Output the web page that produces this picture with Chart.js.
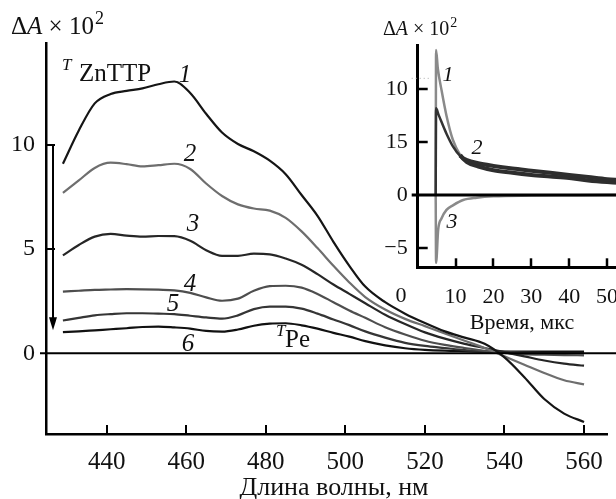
<!DOCTYPE html>
<html>
<head>
<meta charset="utf-8">
<script src="https://cdn.jsdelivr.net/npm/chart.js@4.4.0/dist/chart.umd.min.js"></script>
<style>
  html, body { margin: 0; padding: 0; background: #fff; overflow: hidden; width: 616px; height: 499px; }
  #wrap { position: relative; width: 616px; height: 499px; overflow: hidden; }
  #main { position: absolute; left: 0; top: 0; }
  #inset { position: absolute; left: 380px; top: 0; }
</style>
</head>
<body>
<div id="wrap">
  <canvas id="main" width="616" height="499"></canvas>
  <canvas id="inset" width="300" height="340"></canvas>
</div>
<script>
// --- main spectra (wavelength, nm ; dA x 10^2) ---
var wavelength = [429,433,437,441,445,449,453,457,461,465,469,473,477,481,485,489,493,497,501,505,510,515,520,525,530,535,540,545,550,555,560];
var curve1 = [9.1,10.7,12.0,12.45,12.6,12.72,12.92,13.05,12.5,11.5,10.6,10.05,9.7,9.25,8.6,7.6,6.6,5.35,4.2,3.2,2.45,1.9,1.45,1.05,0.75,0.45,-0.2,-1.15,-2.2,-2.9,-3.3];
var curve2 = [7.7,8.3,8.9,9.15,9.08,8.97,9.03,9.1,8.85,8.15,7.55,7.15,6.95,6.85,6.5,5.85,5.05,4.2,3.4,2.7,2.1,1.65,1.3,0.95,0.6,0.25,-0.15,-0.55,-0.95,-1.3,-1.5];
var curve3 = [4.7,5.2,5.6,5.73,5.65,5.6,5.63,5.62,5.4,4.95,4.68,4.68,4.78,4.75,4.55,4.25,3.8,3.3,2.85,2.4,1.85,1.4,1.0,0.7,0.45,0.25,0.05,-0.15,-0.35,-0.5,-0.6];
var curve4 = [2.96,3.0,3.04,3.06,3.08,3.07,3.05,3.02,2.9,2.68,2.52,2.62,3.0,3.22,3.24,3.15,2.85,2.45,2.05,1.7,1.25,0.9,0.6,0.4,0.25,0.12,0.02,-0.04,-0.07,-0.09,-0.1];
var curve5 = [1.57,1.7,1.82,1.88,1.92,1.92,1.9,1.88,1.8,1.72,1.66,1.82,2.12,2.24,2.24,2.14,1.9,1.62,1.35,1.05,0.75,0.5,0.35,0.25,0.15,0.1,0.06,0.03,0.01,0,0];
var curve6 = [1.01,1.05,1.1,1.15,1.2,1.26,1.28,1.24,1.18,1.07,1.04,1.14,1.32,1.42,1.44,1.34,1.18,0.98,0.8,0.58,0.38,0.24,0.16,0.12,0.1,0.08,0.08,0.08,0.08,0.08,0.08];
var curveNames = ['1','2','3','4','5','6'];
var curveColors = ['#151515','#6e6e6e','#262626','#4e4e4e','#353535','#111111'];
var xTicks = [440,460,480,500,520,540,560];
var yTicks = [0,5,10];

// --- inset kinetics (time, us ; dA x 10^2) ---
var time1 = [4.75,4.85,5.3,6.3,7.6,9.3,11.2,13,16,20,25,30,35,40,45,50,55,60];
var kin1  = [0,13.7,12.0,9.9,7.5,5.2,3.8,3.1,2.7,2.35,2.1,1.9,1.75,1.6,1.38,1.22,1.1,1.05];
var time2 = [4.75,4.85,5.5,6.3,7.6,9.3,11.2,13,16,20,25,30,35,40,45,50,55,60];
var kin2  = [0,8.2,7.6,6.9,5.8,4.6,3.7,3.3,3.0,2.75,2.5,2.3,2.1,1.9,1.7,1.5,1.4,1.35];
var time3 = [4.75,4.85,5.4,6.3,7.6,9.4,12,15.6,20,30,40,50,60];
var kin3  = [0,-6.4,-3.3,-2.2,-1.4,-0.95,-0.47,-0.25,-0.12,-0.05,-0.02,0,0];
var insetXTicks = [10,20,30,40,50];
var insetYTicks = [-5,0,5,10];
var insetYText = ['\u22125','0','15','10'];

var serif = "'Liberation Serif', 'Times New Roman', serif";

function pts(xs, ys) {
  return xs.map(function(v, i) { return { x: v, y: ys[i] }; });
}

function txt(ctx, s, x, y, size, italic, align) {
  ctx.font = (italic ? 'italic ' : '') + size + 'px ' + serif;
  ctx.textAlign = align || 'left';
  ctx.textBaseline = 'alphabetic';
  ctx.fillText(s, x, y);
}

// "dA x 10^2" with italic A and superscript 2
function dALabel(ctx, x, y, size) {
  ctx.fillStyle = '#111';
  ctx.font = size + 'px ' + serif;
  ctx.textAlign = 'left';
  ctx.fillText('\u0394', x, y);
  x += ctx.measureText('\u0394').width;
  ctx.font = 'italic ' + size + 'px ' + serif;
  ctx.fillText('A', x, y);
  x += ctx.measureText('A').width;
  ctx.font = size + 'px ' + serif;
  ctx.fillText(' \u00d7 10', x, y);
  x += ctx.measureText(' \u00d7 10').width;
  ctx.font = Math.round(size * 0.7) + 'px ' + serif;
  ctx.fillText('2', x + 1, y - size * 0.42);
}

var mainDecor = {
  id: 'mainDecor',
  afterDraw: function(chart) {
    var ctx = chart.ctx, a = chart.chartArea, x = chart.scales.x, y = chart.scales.y;
    ctx.save();
    ctx.strokeStyle = '#000';
    ctx.fillStyle = '#000';
    ctx.lineWidth = 2;
    var y0 = y.getPixelForValue(0);
    ctx.beginPath(); ctx.moveTo(40, y0); ctx.lineTo(chart.width, y0); ctx.stroke();
    xTicks.forEach(function(v) {
      var px = Math.round(x.getPixelForValue(v));
      ctx.beginPath(); ctx.moveTo(px, a.bottom); ctx.lineTo(px, a.bottom - 9); ctx.stroke();
    });
    [5, 10].forEach(function(v) {
      var py = Math.round(y.getPixelForValue(v));
      ctx.beginPath(); ctx.moveTo(a.left, py); ctx.lineTo(a.left + 9, py); ctx.stroke();
    });
    // arrow from 10 down
    var ax = 53, top = y.getPixelForValue(10), tip = y.getPixelForValue(1.1);
    ctx.beginPath(); ctx.moveTo(ax, top); ctx.lineTo(ax, tip - 10); ctx.stroke();
    ctx.beginPath(); ctx.moveTo(ax - 4, tip - 13); ctx.lineTo(ax + 4, tip - 13); ctx.lineTo(ax, tip); ctx.closePath(); ctx.fill();

    ctx.fillStyle = '#111';
    dALabel(ctx, 11, 34, 25);
    // axis title
    txt(ctx, '\u0414\u043b\u0438\u043d\u0430 \u0432\u043e\u043b\u043d\u044b, \u043d\u043c', 334, 495, 26, false, 'center');
    // species labels
    txt(ctx, 'T', 62, 70, 17, true);
    txt(ctx, 'ZnTTP', 79, 81, 25, false);
    txt(ctx, 'T', 276, 336, 17, true);
    txt(ctx, 'Pe', 285, 347, 25, false);
    // curve numbers
    var lab = [[185, 82], [190, 161], [193, 231], [190, 291], [173, 311], [188, 351]];
    lab.forEach(function(p, i) { txt(ctx, curveNames[i], p[0], p[1], 25, true, 'center'); });
    ctx.restore();
  }
};

new Chart(document.getElementById('main'), {
  type: 'line',
  data: {
    datasets: [curve1, curve2, curve3, curve4, curve5, curve6].map(function(c, i) {
      return {
        label: curveNames[i],
        data: pts(wavelength, c),
        borderColor: curveColors[i],
        borderWidth: 2.2,
        pointRadius: 0,
        tension: 0.4,
        cubicInterpolationMode: 'monotone',
        fill: false
      };
    })
  },
  options: {
    responsive: false,
    animation: false,
    events: [],
    layout: { padding: { left: 0, right: 5, top: 43, bottom: 0 } },
    plugins: { legend: { display: false }, tooltip: { enabled: false } },
    scales: {
      x: {
        type: 'linear',
        min: 424.75,
        max: 566,
        afterFit: function(s) { s.height = 65; },
        afterBuildTicks: function(s) { s.ticks = xTicks.map(function(v) { return { value: v }; }); },
        grid: { display: false, drawTicks: false },
        border: { display: true, color: '#000', width: 2.5 },
        ticks: { color: '#111', font: { family: serif, size: 25 }, padding: 13, maxRotation: 0, autoSkip: false }
      },
      y: {
        type: 'linear',
        min: -3.88,
        max: 14.9,
        afterFit: function(s) { s.width = 46; },
        afterBuildTicks: function(s) { s.ticks = yTicks.map(function(v) { return { value: v }; }); },
        grid: { display: false, drawTicks: false },
        border: { display: true, color: '#000', width: 2.5 },
        ticks: { color: '#111', font: { family: serif, size: 24 }, padding: 11 }
      }
    }
  },
  plugins: [mainDecor]
});

var insetDecor = {
  id: 'insetDecor',
  afterDraw: function(chart) {
    var ctx = chart.ctx, a = chart.chartArea, x = chart.scales.x, y = chart.scales.y;
    ctx.save();
    ctx.strokeStyle = '#000';
    ctx.lineWidth = 3;
    var y0 = y.getPixelForValue(0);
    ctx.beginPath(); ctx.moveTo(a.left - 6, y0); ctx.lineTo(chart.width, y0); ctx.stroke();
    ctx.lineWidth = 2.5;
    insetXTicks.forEach(function(v) {
      var px = Math.round(x.getPixelForValue(v));
      ctx.beginPath(); ctx.moveTo(px, a.bottom); ctx.lineTo(px, a.bottom - 9); ctx.stroke();
    });
    [-5, 5, 10].forEach(function(v) {
      var py = Math.round(y.getPixelForValue(v));
      ctx.beginPath(); ctx.moveTo(a.left, py); ctx.lineTo(a.left + 10, py); ctx.stroke();
    });
    // faint dotted mark near the top
    ctx.strokeStyle = '#aaa'; ctx.lineWidth = 1; ctx.setLineDash([1, 3]);
    var yd = y.getPixelForValue(11.03);
    ctx.beginPath(); ctx.moveTo(a.left - 6, yd); ctx.lineTo(a.left + 12, yd); ctx.stroke();
    ctx.setLineDash([]);

    ctx.fillStyle = '#111';
    txt(ctx, '0', 21, 302, 22, false, 'center');
    txt(ctx, '\u0412\u0440\u0435\u043c\u044f, \u043c\u043a\u0441', 142, 329, 22, false, 'center');
    dALabel(ctx, 3, 35, 20);
    txt(ctx, '1', 68, 81, 22, true, 'center');
    txt(ctx, '2', 97, 154, 22, true, 'center');
    txt(ctx, '3', 72, 228, 22, true, 'center');
    ctx.restore();
  }
};

function tailStyle(grey, dark, cut) {
  return {
    borderColor: function(c) { return c.p0.parsed.x >= cut ? dark : grey; },
    borderWidth: function(c) { return c.p0.parsed.x >= cut ? 4 : 2.5; }
  };
}

new Chart(document.getElementById('inset'), {
  type: 'line',
  data: {
    datasets: [
      { label: '2', data: pts(time2, kin2), borderColor: '#333', borderWidth: 3, segment: tailStyle('#333', '#2e2e2e', 11) },
      { label: '1', data: pts(time1, kin1), borderColor: '#8a8a8a', borderWidth: 2.5, segment: tailStyle('#8a8a8a', '#2e2e2e', 11) },
      { label: '3', data: pts(time3, kin3), borderColor: '#8a8a8a', borderWidth: 2.5 }
    ].map(function(d) {
      d.pointRadius = 0; d.cubicInterpolationMode = 'monotone'; d.fill = false; return d;
    })
  },
  options: {
    responsive: false,
    animation: false,
    events: [],
    layout: { padding: { left: 0, right: 35, top: 45, bottom: 0 } },
    plugins: { legend: { display: false }, tooltip: { enabled: false } },
    scales: {
      x: {
        type: 'linear',
        min: 0,
        max: 60,
        afterFit: function(s) { s.height = 72.7; },
        afterBuildTicks: function(s) { s.ticks = insetXTicks.map(function(v) { return { value: v }; }); },
        grid: { display: false, drawTicks: false },
        border: { display: true, color: '#000', width: 3 },
        ticks: { color: '#111', font: { family: serif, size: 22 }, padding: 17, maxRotation: 0, autoSkip: false }
      },
      y: {
        type: 'linear',
        min: -6.83,
        max: 14.18,
        afterFit: function(s) { s.width = 37.7; },
        afterBuildTicks: function(s) { s.ticks = insetYTicks.map(function(v) { return { value: v }; }); },
        grid: { display: false, drawTicks: false },
        border: { display: true, color: '#000', width: 3 },
        ticks: {
          color: '#111', font: { family: serif, size: 22 }, padding: 10,
          callback: function(v) { var i = insetYTicks.indexOf(v); return i < 0 ? '' : insetYText[i]; }
        }
      }
    }
  },
  plugins: [insetDecor]
});
</script>
</body>
</html>
